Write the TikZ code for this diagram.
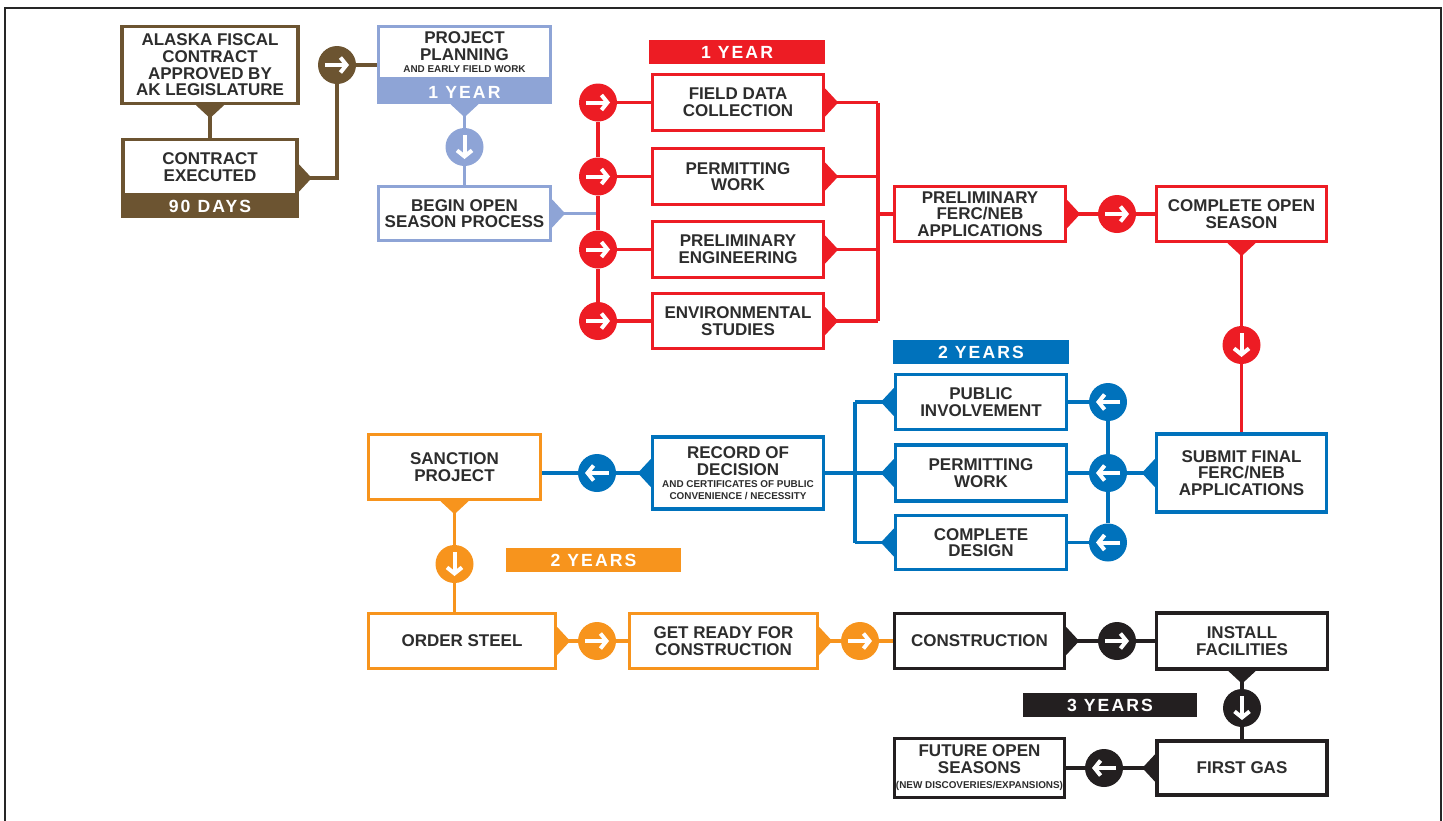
\documentclass[tikz,border=0pt]{standalone}
\usepackage{fontspec}
\setmainfont{Liberation Sans}
\newfontfamily\spacedfont[LetterSpace=12]{Liberation Sans}
\usetikzlibrary{arrows.meta,calc}

\definecolor{brownc}{RGB}{108,84,49}
\definecolor{lblue}{RGB}{142,164,214}
\definecolor{redc}{RGB}{237,28,36}
\definecolor{bluec}{RGB}{0,114,188}
\definecolor{orangec}{RGB}{247,148,29}
\definecolor{blackc}{RGB}{35,31,32}
\definecolor{txt}{RGB}{45,45,45}

\newdimen\pxu \pxu=0.5pt
\newcommand\boxfont{\bfseries\fontsize{8.5}{8.3}\selectfont}
\newcommand\tinyfont{\bfseries\fontsize{4.95}{5.8}\selectfont}
\newcommand\bandfont{\spacedfont\bfseries\fontsize{8.8}{9}\selectfont}

% white arrow inside a circle
\newcommand\arrowin[3]{\draw[whitearrow] ([shift={(-#2,-#3)}]#1.center) -- ([shift={(#2,#3)}]#1.center);}
% small triangles on the box edges
\newcommand\tipE[2]{\fill[#1] (#2) ++(0,-14) -- ++(13,14) -- ++(-13,14) -- cycle;}
\newcommand\tipW[2]{\fill[#1] (#2) ++(0,-14) -- ++(-13,14) -- ++(13,14) -- cycle;}
\newcommand\tipS[2]{\fill[#1] (#2) ++(-14,0) -- ++(14,13) -- ++(14,-13) -- cycle;}

\tikzset{
    dims/.style 2 args={minimum width=#1\pxu, minimum height=#2\pxu},
    stepbox/.style={draw=#1, line width=1.7pt, fill=white, inner sep=0pt, align=center, font=\boxfont, text=txt},
    yearband/.style={fill=#1, inner sep=0pt, text=white, font=\bandfont},
    bullet/.style={circle, fill=#1, minimum size=38\pxu, inner sep=0pt},
    link/.style={draw=#1, line width=1.8pt},
    whitearrow/.style={white, line width=2pt, -{Straight Barb[length=3pt,width=7.5pt]}},
}

\begin{document}
\begin{tikzpicture}[x=0.5pt,y=-0.5pt]
    \useasboundingbox (0,0) rectangle (1443,820);
    \draw[line width=1pt, black!85] (5,8) rectangle (1441,840);

    % brown: contract
    \node[stepbox=brownc, dims={176}{77}] (fiscal) at (210,65) {ALASKA FISCAL\\CONTRACT\\APPROVED BY\\AK LEGISLATURE};
    \node[stepbox=brownc, dims={174}{55}] (executed) at (210,167) {CONTRACT\\EXECUTED};
    \node[yearband=brownc, draw=brownc, line width=1.7pt, dims={174}{20}] (execdays) at (210,206.5) {90 DAYS};
    \coordinate (exectip) at ($(executed.north east)!0.5!(execdays.south east)$);
    \node[bullet=brownc] (c0) at (337,65) {};

    % light blue: planning
    \node[stepbox=lblue, dims={172}{52}] (planning) at (464.5,52.5) {PROJECT\\PLANNING\\[-2.2pt]{\tinyfont AND EARLY FIELD WORK}};
    \node[yearband=lblue, draw=lblue, line width=1.7pt, dims={172}{21}] (planyear) at (464.5,92) {1 YEAR};
    \node[bullet=lblue] (c1) at (464.5,147) {};
    \node[stepbox=lblue, dims={172}{54}] (openseason) at (464.5,213.5) {BEGIN OPEN\\SEASON PROCESS};

    % red: first year
    \coordinate (lbus) at (598,0);
    \coordinate (rbus) at (878,0);
    \node[yearband=redc, dims={176}{24}] (redyear) at (737,52) {1 YEAR};
    \node[stepbox=redc, dims={171}{56}] (fielddata) at (738,102.5) {FIELD DATA\\COLLECTION};
    \node[stepbox=redc, dims={171}{56}] (permitting) at (738,176.5) {PERMITTING\\WORK};
    \node[stepbox=redc, dims={171}{56}] (engineering) at (738,249.5) {PRELIMINARY\\ENGINEERING};
    \node[stepbox=redc, dims={171}{55}] (environ) at (738,321) {ENVIRONMENTAL\\STUDIES};
    \node[stepbox=redc, dims={171}{55}] (prelimferc) at (980,214) {PRELIMINARY\\FERC/NEB\\APPLICATIONS};
    \node[bullet=redc] (r5) at (1117,214) {};
    \node[stepbox=redc, dims={170}{55}] (completeos) at (1241.5,214) {COMPLETE OPEN\\SEASON};
    \node[bullet=redc] (r6) at (1241.5,345) {};

    % blue: two years
    \coordinate (bbus) at (855,0);
    \coordinate (obus) at (1108,0);
    \node[yearband=bluec, dims={176}{24}] (blueyear) at (981,352) {2 YEARS};
    \node[stepbox=bluec, dims={171}{55}] (public) at (981,402) {PUBLIC\\INVOLVEMENT};
    \node[stepbox=bluec, dims={171}{56}] (permitagency) at (981,473) {PERMITTING\\WORK};
    \node[stepbox=bluec, dims={171}{54}] (design) at (981,542.5) {COMPLETE\\DESIGN};
    \node[stepbox=bluec, dims={170}{78}] (submit) at (1241.5,473) {SUBMIT FINAL\\FERC/NEB\\APPLICATIONS};
    \node[stepbox=bluec, dims={171}{72}] (record) at (738,473) {RECORD OF\\DECISION\\[-2.3pt]{\tinyfont AND CERTIFICATES OF PUBLIC}\\[-2.4pt]{\tinyfont CONVENIENCE / NECESSITY}};
    \node[bullet=bluec] (b4) at (597,473) {};

    % orange: two years
    \node[stepbox=orangec, dims={172}{65}] (sanction) at (454.5,467) {SANCTION\\PROJECT};
    \node[yearband=orangec, dims={175}{24}] (orangeyear) at (593.5,560) {2 YEARS};
    \node[bullet=orangec] (o1) at (454.5,564) {};
    \node[stepbox=orangec, dims={187}{55}] (steel) at (462,641) {ORDER STEEL};
    \node[bullet=orangec] (o2) at (597,641) {};
    \node[stepbox=orangec, dims={188}{55}] (ready) at (723.5,641) {GET READY FOR\\CONSTRUCTION};
    \node[bullet=orangec] (o3) at (860,641) {};

    % black: three years
    \node[stepbox=blackc, dims={170}{55}] (construction) at (979.5,641) {CONSTRUCTION};
    \node[bullet=blackc] (k1) at (1117,641) {};
    \node[stepbox=blackc, dims={171}{56}] (install) at (1242,641) {INSTALL\\FACILITIES};
    \node[bullet=blackc] (k2) at (1242,708) {};
    \node[yearband=blackc, dims={174}{24}] (blackyear) at (1110,705) {3 YEARS};
    \node[stepbox=blackc, dims={170}{54}] (firstgas) at (1242,768) {FIRST GAS};
    \node[bullet=blackc] (k3) at (1104,768) {};
    \node[stepbox=blackc, dims={170}{59}] (future) at (979.5,768) {FUTURE OPEN\\SEASONS\\[-0.6pt]{\tinyfont (NEW DISCOVERIES/EXPANSIONS)}};

    % connectors
    \draw[link=brownc] (fiscal) -- (executed);
    \draw[link=brownc] (exectip) -- (exectip -| c0) -- (c0);
    \draw[link=brownc] (c0) -- (c0 -| planning.west);
    \tipS{brownc}{fiscal.south}
    \tipE{brownc}{exectip}
    \arrowin{c0}{12}{0}

    \draw[link=lblue] (planyear) -- (c1);
    \draw[link=lblue] (c1) -- (openseason);
    \draw[link=lblue] (openseason.east) -- (openseason.east -| lbus);
    \tipS{lblue}{planyear.south}
    \tipE{lblue}{openseason.east}
    \arrowin{c1}{0}{12}

    \foreach \n in {fielddata,permitting,engineering,environ}
        {
            \node[bullet=redc] (in\n) at (\n.west -| lbus) {};
            \draw[link=redc] (in\n) -- (\n);
            \draw[link=redc] (\n.east) -- (\n.east -| rbus);
            \tipE{redc}{\n.east}
            \arrowin{in\n}{12}{0}
        }
    \draw[link=redc] (infielddata) -- (inpermitting);
    \draw[link=redc] (inpermitting) -- (inengineering);
    \draw[link=redc] (inengineering) -- (inenviron);
    \draw[link=redc] (fielddata.east -| rbus) -- (environ.east -| rbus);
    \draw[link=redc] (prelimferc.west -| rbus) -- (prelimferc.west);
    \draw[link=redc] (prelimferc) -- (r5);
    \draw[link=redc] (r5) -- (completeos);
    \draw[link=redc] (completeos) -- (r6);
    \draw[link=redc] (r6) -- (submit);
    \tipE{redc}{prelimferc.east}
    \tipS{redc}{completeos.south}
    \arrowin{r5}{12}{0}
    \arrowin{r6}{0}{12}

    \foreach \n in {public,permitagency,design}
        {
            \node[bullet=bluec] (out\n) at (\n.east -| obus) {};
            \draw[link=bluec] (out\n) -- (\n);
            \draw[link=bluec] (\n.west) -- (\n.west -| bbus);
            \tipW{bluec}{\n.west}
            \arrowin{out\n}{-12}{0}
        }
    \draw[link=bluec] (outpublic) -- (outpermitagency);
    \draw[link=bluec] (outpermitagency) -- (outdesign);
    \draw[link=bluec] (public.west -| bbus) -- (design.west -| bbus);
    \draw[link=bluec] (submit) -- (outpermitagency);
    \draw[link=bluec] (record.east) -- (record.east -| bbus);
    \draw[link=bluec] (record) -- (b4);
    \draw[link=bluec] (b4) -- (b4 -| sanction.east);
    \tipW{bluec}{submit.west}
    \tipW{bluec}{record.west}
    \arrowin{b4}{-12}{0}

    \draw[link=orangec] (sanction) -- (o1);
    \draw[link=orangec] (o1) -- (o1 |- steel.north);
    \draw[link=orangec] (steel) -- (o2);
    \draw[link=orangec] (o2) -- (ready);
    \draw[link=orangec] (ready) -- (o3);
    \draw[link=orangec] (o3) -- (construction);
    \tipS{orangec}{sanction.south}
    \tipE{orangec}{steel.east}
    \tipE{orangec}{ready.east}
    \arrowin{o1}{0}{12}
    \arrowin{o2}{12}{0}
    \arrowin{o3}{12}{0}

    \draw[link=blackc] (construction) -- (k1);
    \draw[link=blackc] (k1) -- (install);
    \draw[link=blackc] (install) -- (k2);
    \draw[link=blackc] (k2) -- (firstgas);
    \draw[link=blackc] (firstgas) -- (k3);
    \draw[link=blackc] (k3) -- (future);
    \tipE{blackc}{construction.east}
    \tipS{blackc}{install.south}
    \tipW{blackc}{firstgas.west}
    \arrowin{k1}{12}{0}
    \arrowin{k2}{0}{12}
    \arrowin{k3}{-12}{0}
\end{tikzpicture}
\end{document}
